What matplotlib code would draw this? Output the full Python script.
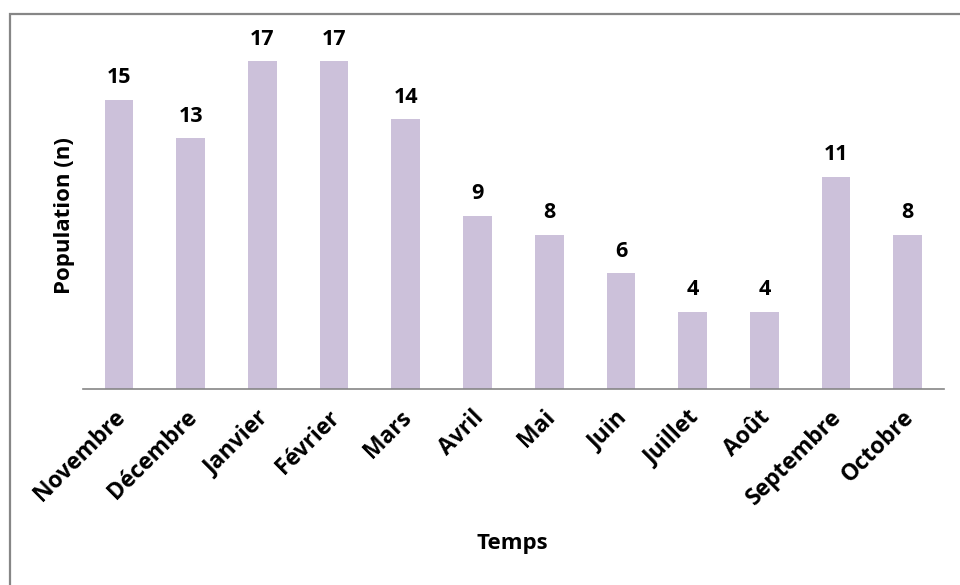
import matplotlib.pyplot as plt
from matplotlib.patches import Rectangle
from matplotlib.transforms import ScaledTranslation

plt.rcParams['font.family'] = ['Open Sans', 'DejaVu Sans']

mois = ['Novembre', 'Décembre', 'Janvier', 'Février', 'Mars', 'Avril',
        'Mai', 'Juin', 'Juillet', 'Août', 'Septembre', 'Octobre']
population = [15, 13, 17, 17, 14, 9, 8, 6, 4, 4, 11, 8]

bar_color = '#CCC1DA'

fig = plt.figure(figsize=(9.6, 5.85), dpi=100)
ax = fig.add_axes([0.0865, 0.335, 0.8965, 0.593])

x = range(len(mois))
bars = ax.bar(x, population, width=0.4, color=bar_color)

for xi, v in zip(x, population):
    ax.text(xi, v + 0.6, str(v), ha='center', va='bottom',
            fontsize=15.5, fontweight='bold', clip_on=False)

ax.set_xlim(-0.5, len(mois) - 0.5)
ax.set_ylim(0, 18)
ax.set_xticks(list(x))
ax.set_xticklabels(mois, rotation=45, ha='right', va='top',
                   rotation_mode='anchor', fontsize=16.5, fontweight='bold')
ax.tick_params(axis='x', length=0, pad=12)
shift = ScaledTranslation(-6 / 100, 0, fig.dpi_scale_trans)
for lab in ax.get_xticklabels():
    lab.set_transform(lab.get_transform() + shift)
ax.set_yticks([])

for side in ['top', 'right', 'left']:
    ax.spines[side].set_visible(False)
ax.spines['bottom'].set_color('#868686')
ax.spines['bottom'].set_linewidth(1.2)

ax.set_ylabel('Population (n)', fontsize=16, fontweight='bold', labelpad=6)
fig.text(0.534, 0.071, 'Temps', ha='center', va='center',
         fontsize=16, fontweight='bold')

# chart frame (runs off the right and bottom edges)
frame = Rectangle((10 / 960, -0.05), 1.2, 1 - 13.5 / 585 + 0.05,
                  transform=fig.transFigure, fill=False,
                  edgecolor='#868686', linewidth=1.6, clip_on=False)
fig.patches.append(frame)

fig.savefig('out.png', dpi=100)
